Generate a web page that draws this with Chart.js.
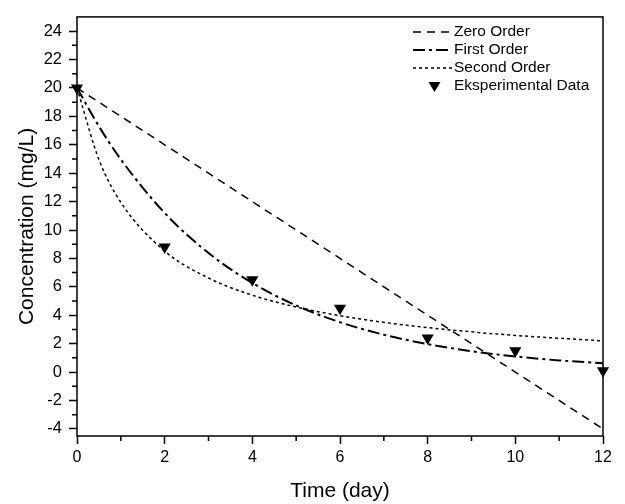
<!DOCTYPE html>
<html>
<head>
<meta charset="utf-8">
<script src="https://cdn.jsdelivr.net/npm/chart.js@4.4.0/dist/chart.umd.min.js"></script>
<style>
  html, body { margin: 0; padding: 0; background: #fff; }
</style>
</head>
<body>
<canvas id="kinetics" width="625" height="504"></canvas>
<script>
// model curves
const days = [0, 0.5, 1, 2, 3, 4, 5, 6, 7, 8, 9, 10, 11, 12];
const zeroOrder = [20, 19, 18, 16, 14, 12, 10, 8, 6, 4, 2, 0, -2, -4];
const firstOrder = [20, 17.30, 14.97, 11.20, 8.38, 6.27, 4.69, 3.51, 2.63, 1.97, 1.47, 1.10, 0.82, 0.62];
const secondOrder = [20, 14.96, 11.95, 8.52, 6.62, 5.41, 4.58, 3.97, 3.50, 3.13, 2.83, 2.58, 2.38, 2.20];

// measurements
const sampleDays = [0, 2, 4, 6, 8, 10, 12];
const measured = [20, 8.8, 6.5, 4.5, 2.4, 1.5, 0.1];

const xTicks = [0, 2, 4, 6, 8, 10, 12];
const yTicks = [-4, -2, 0, 2, 4, 6, 8, 10, 12, 14, 16, 18, 20, 22, 24];
const xMinor = [1, 3, 5, 7, 9, 11];
const yMinor = [-3, -1, 1, 3, 5, 7, 9, 11, 13, 15, 17, 19, 21, 23];

const FONT = 'Liberation Sans, Arial, sans-serif';

function pairs(xs, ys) {
    return xs.map((x, i) => ({ x: x, y: ys[i] }));
}

// frame, minor ticks and the legend inside the plot
const extras = {
    id: 'extras',
    afterDraw(chart) {
        const ctx = chart.ctx;
        const a = chart.chartArea;
        const x = chart.scales.x, y = chart.scales.y;
        ctx.save();
        ctx.strokeStyle = '#000';
        ctx.lineWidth = 1.5;
        ctx.setLineDash([]);
        ctx.strokeRect(a.left, a.top, a.right - a.left, a.bottom - a.top);

        ctx.beginPath();
        xMinor.forEach(v => {
            const px = x.getPixelForValue(v);
            ctx.moveTo(px, a.bottom);
            ctx.lineTo(px, a.bottom + 5);
        });
        yMinor.forEach(v => {
            const py = y.getPixelForValue(v);
            ctx.moveTo(a.left, py);
            ctx.lineTo(a.left - 5, py);
        });
        ctx.stroke();

        // legend
        const lx = 413, lw = 39, tx = 454;
        let ly = 32;
        ctx.font = '15.5px ' + FONT;
        ctx.fillStyle = '#000';
        ctx.textBaseline = 'middle';
        chart.data.datasets.forEach(ds => {
            if (ds.showLine === false) {
                const cx = lx + lw / 2 + 2;
                ctx.beginPath();
                ctx.moveTo(cx - 6, ly - 4);
                ctx.lineTo(cx + 6, ly - 4);
                ctx.lineTo(cx, ly + 6);
                ctx.closePath();
                ctx.fill();
            } else {
                ctx.beginPath();
                ctx.lineWidth = ds.borderWidth;
                ctx.setLineDash(ds.borderDash);
                ctx.moveTo(lx, ly);
                ctx.lineTo(lx + lw, ly);
                ctx.stroke();
                ctx.setLineDash([]);
            }
            ctx.fillText(ds.label, tx, ly);
            ly += 18;
        });
        ctx.restore();
    }
};

new Chart(document.getElementById('kinetics'), {
    type: 'scatter',
    data: {
        datasets: [
            {
                label: 'Zero Order',
                data: pairs(days, zeroOrder),
                showLine: true,
                borderColor: '#000',
                borderWidth: 1.5,
                borderDash: [8, 6],
                pointRadius: 0,
                order: 1
            },
            {
                label: 'First Order',
                data: pairs(days, firstOrder),
                showLine: true,
                borderColor: '#000',
                borderWidth: 2,
                borderDash: [12, 4, 3, 4],
                cubicInterpolationMode: 'monotone',
                pointRadius: 0,
                order: 1
            },
            {
                label: 'Second Order',
                data: pairs(days, secondOrder),
                showLine: true,
                borderColor: '#000',
                borderWidth: 1.5,
                borderDash: [3, 3],
                cubicInterpolationMode: 'monotone',
                pointRadius: 0,
                order: 1
            },
            {
                label: 'Eksperimental Data',
                data: pairs(sampleDays, measured),
                showLine: false,
                clip: false,
                pointStyle: 'triangle',
                rotation: 180,
                pointRadius: 7,
                pointHoverRadius: 7,
                backgroundColor: '#000',
                borderColor: '#000',
                borderWidth: 0,
                order: 0
            }
        ]
    },
    options: {
        responsive: false,
        animation: false,
        devicePixelRatio: 1,
        layout: { padding: { left: 0, right: 22, top: 10, bottom: 0 }, autoPadding: false },
        plugins: {
            legend: { display: false },
            tooltip: { enabled: false }
        },
        scales: {
            x: {
                type: 'linear',
                min: 0,
                max: 12,
                afterBuildTicks: s => { s.ticks = xTicks.map(v => ({ value: v })); },
                afterFit: s => { s.height = 68; },
                ticks: { color: '#000', font: { family: FONT, size: 16 }, padding: 4, maxRotation: 0 },
                grid: { drawOnChartArea: false, drawTicks: true, tickLength: 8, tickWidth: 1.5, tickColor: '#000' },
                border: { display: false },
                title: {
                    display: true,
                    text: 'Time (day)',
                    color: '#000',
                    font: { family: FONT, size: 21 },
                    padding: { top: 0, bottom: 0 }
                }
            },
            y: {
                min: -4.5,
                max: 25,
                afterBuildTicks: s => { s.ticks = yTicks.map(v => ({ value: v })); },
                afterFit: s => { s.width = 77; },
                ticks: { color: '#000', font: { family: FONT, size: 16.5 }, padding: 7 },
                grid: { drawOnChartArea: false, drawTicks: true, tickLength: 8, tickWidth: 1.5, tickColor: '#000' },
                border: { display: false },
                title: {
                    display: true,
                    text: 'Concentration (mg/L)',
                    color: '#000',
                    font: { family: FONT, size: 21 },
                    padding: { top: 15, bottom: 0 }
                }
            }
        }
    },
    plugins: [extras]
});
</script>
</body>
</html>
